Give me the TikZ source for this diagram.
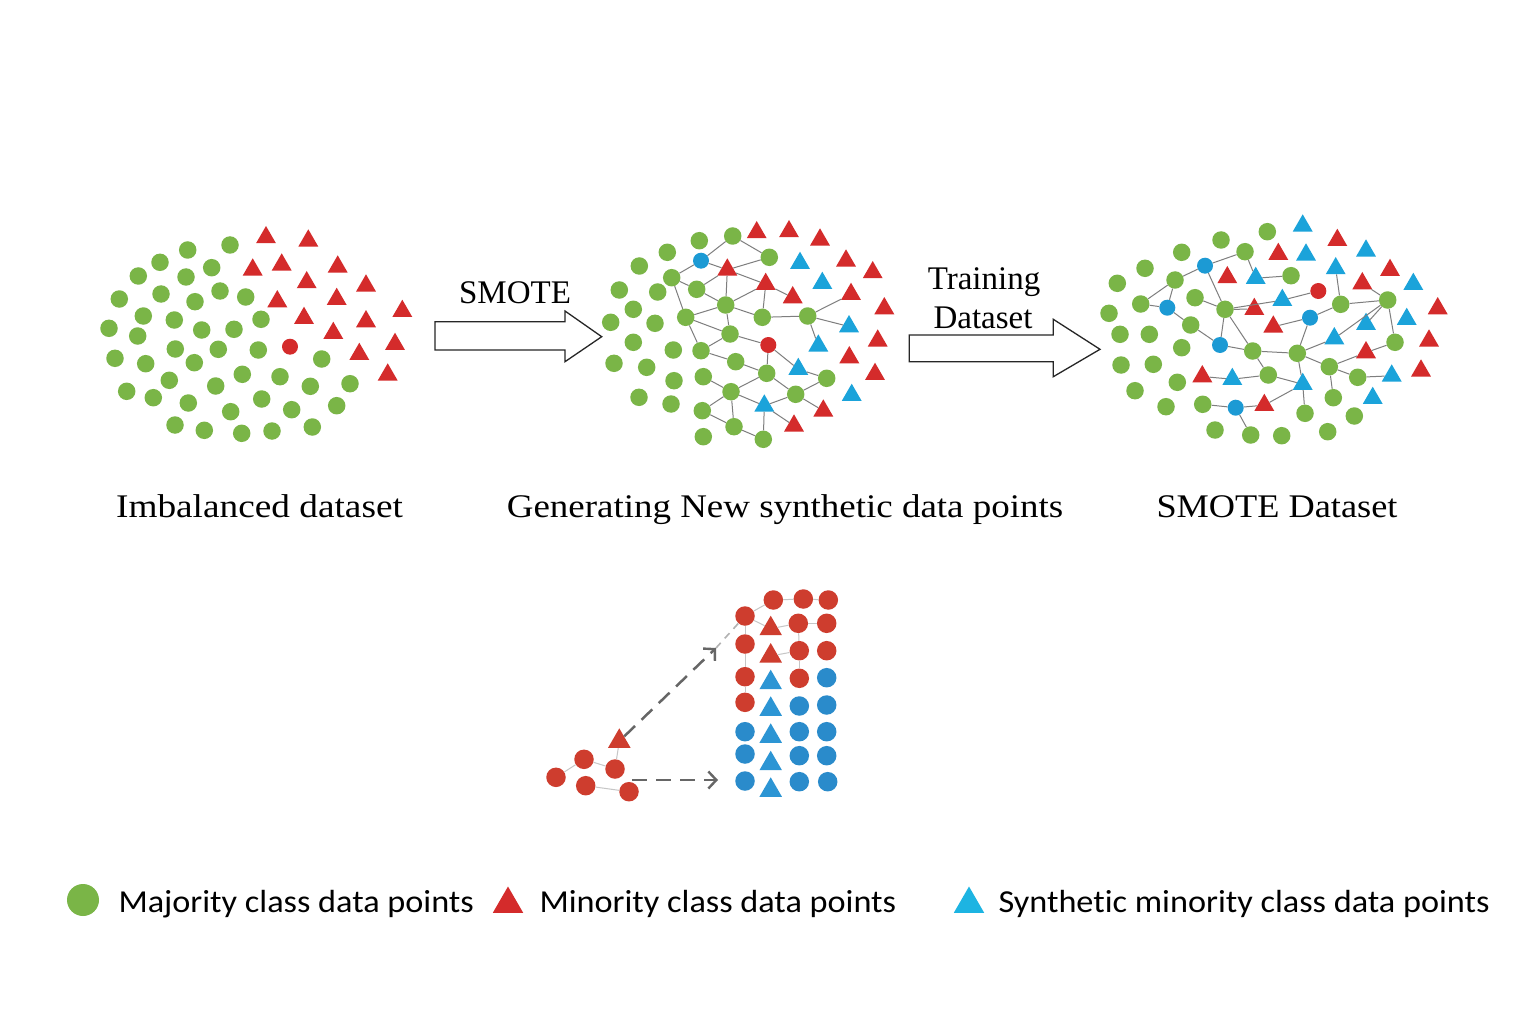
\documentclass[tikz,border=0pt]{standalone}
\usepackage{graphicx}
\usepackage{fontspec}
\setmainfont{Liberation Serif}
\newfontfamily\legfont[Ligatures=NoCommon]{Carlito}
\usetikzlibrary{shapes.geometric,arrows.meta}
\definecolor{cgreen}{HTML}{7AB547}
\definecolor{cred}{HTML}{D42B2B}
\definecolor{cblue}{HTML}{1C9AD4}
\definecolor{ctri}{HTML}{1BA3DA}
\definecolor{cgray}{HTML}{7E7E7E}
\definecolor{bred}{HTML}{CE3D2E}
\definecolor{bblue}{HTML}{2A8BCB}
\definecolor{btri}{HTML}{2C95D4}
\definecolor{lblue}{HTML}{1DB4E2}
\begin{document}
\begin{tikzpicture}[x=1pt,y=-1pt,
  gc/.style={circle,fill=cgreen,minimum size=17.5pt,inner sep=0pt},
  bc/.style={circle,fill=cblue,minimum size=16pt,inner sep=0pt},
  rx/.style={circle,fill=cred,minimum size=16pt,inner sep=0pt},
  rt/.style={regular polygon,regular polygon sides=3,fill=cred,minimum size=23pt,inner sep=0pt,yshift=-2.5pt},
  bt/.style={regular polygon,regular polygon sides=3,fill=ctri,minimum size=23pt,inner sep=0pt,yshift=-2.5pt},
  brc/.style={circle,fill=bred,minimum size=19.5pt,inner sep=0pt},
  bbc/.style={circle,fill=bblue,minimum size=19.5pt,inner sep=0pt},
  brt/.style={regular polygon,regular polygon sides=3,fill=bred,minimum size=26pt,inner sep=0pt,yshift=-2pt},
  bbt/.style={regular polygon,regular polygon sides=3,fill=btri,minimum size=26pt,inner sep=0pt,yshift=-2pt},
  lnk/.style={draw=cgray,line width=1pt},
  dasharrow/.style={draw=gray!80!black,line width=2.5pt,dash pattern=on 15pt off 9pt,-{Straight Barb[length=8pt,width=17pt,line width=2.4pt]}},
  blockarrow/.style={draw=black!85,line width=1.3pt,fill=white,line join=miter},
  title/.style={anchor=base,font=\fontsize{33}{40}\selectfont},
  lab/.style={anchor=base,font=\fontsize{33}{40}\selectfont},
  leg/.style={anchor=base west,font=\legfont\fontsize{32}{38}\selectfont}]
\useasboundingbox (0,0) rectangle (1536,1024);
\fill[white] (0,0) rectangle (1536,1024);

% ---------- cluster 1 : imbalanced ----------
\foreach \n/\x/\y in {Ag1/230/245,Ag2/187.7/250,Ag3/160/262.3,Ag4/211.7/267.7,Ag5/186/277,Ag6/138.3/276,Ag7/119.3/299,Ag8/161/294,Ag9/195/301.7,Ag10/220/291,Ag11/245.7/297,Ag12/143.3/316,Ag13/174.3/320,Ag14/201.7/330,Ag15/234/329.3,Ag16/261/319.3,Ag17/109/328.3,Ag18/137.7/336,Ag19/175.3/349,Ag20/218.3/349.3,Ag21/258.3/350,Ag22/194.3/362.7,Ag23/321.7/359,Ag24/115/358.3,Ag25/145.7/363.7,Ag26/169.3/380.3,Ag27/242.3/374.3,Ag28/280/376.7,Ag29/215.7/386,Ag30/310.3/386.3,Ag31/350/383.7,Ag32/126.7/391.3,Ag33/153.3/397.7,Ag34/188.3/403,Ag35/261.7/399,Ag36/230.7/411.7,Ag37/291.7/409.7,Ag38/336.7/405.7,Ag39/175/425,Ag40/204.3/430.3,Ag41/241.7/433.3,Ag42/272/431,Ag43/312.3/427}
  \node[gc] (\n) at (\x,\y) {};
\foreach \n/\x/\y in {At1/266/235,At2/308.3/238.3,At3/252.7/267.3,At4/281.7/262.3,At5/337.7/264.3,At6/306.7/280,At7/366/283.3,At8/277.3/299,At9/336.7/296.7,At10/402.3/308.7,At11/304/315.7,At12/366/319,At13/333.3/330.7,At14/395/341.7,At15/359.3/351.7,At16/387.7/372.3}
  \node[rt] (\n) at (\x,\y) {};
\node[rx] (Ax) at (290,346.7) {};

% ---------- cluster 2 : generating ----------
\foreach \n/\x/\y in {Bg1/699.3/240.7,Bg2/732.7/236,Bg3/769.3/257.3,Bg4/667.3/252.3,Bg5/639.3/266,Bg6/671.7/277.7,Bg7/696.7/289.3,Bg8/619.3/290,Bg9/657.7/292,Bg10/633.3/309.3,Bg11/725.7/305,Bg12/685.7/317.3,Bg13/762.3/317.3,Bg14/807.7/316,Bg15/610.7/322.3,Bg16/655/323.3,Bg17/730/334,Bg18/633.3/342.3,Bg19/673.3/350,Bg20/701/350.7,Bg21/735.7/361.7,Bg22/614/363.3,Bg23/646.7/367.3,Bg24/766.7/373.3,Bg25/826.7/378.3,Bg26/674/380.7,Bg27/703.3/376.7,Bg28/731/391.7,Bg29/795.7/394.3,Bg30/639/397.3,Bg31/671/404,Bg32/702.3/410.7,Bg33/734/426.7,Bg34/763.3/439.3,Bg35/703.3/436.7}
  \node[gc] (\n) at (\x,\y) {};
\node[bc] (Bb1) at (701,260.7) {};
\foreach \n/\x/\y in {Br1/756.7/230,Br2/789/229,Br3/820/237.3,Br4/727.3/267.3,Br5/765.7/281.7,Br6/846/258.3,Br7/872.7/270,Br8/792.7/295,Br9/851/291.7,Br10/884.3/306,Br11/877.7/338.3,Br12/849.3/355,Br13/875/371.7,Br14/823.3/408.3,Br15/794/423.3}
  \node[rt] (\n) at (\x,\y) {};
\node[rx] (Bx) at (768.3,345) {};
\foreach \n/\x/\y in {Bt1/800/260.7,Bt2/822.3/280.7,Bt3/849/324,Bt4/818.3/343.3,Bt5/798.3/366.7,Bt6/851.7/392.7,Bt7/764.3/403.3}
  \node[bt] (\n) at (\x,\y) {};
\foreach \a/\b in {Bb1/Bg2,Bg2/Bg3,Bg3/Br4,Bb1/Br4,Bb1/Bg6,Bg6/Bg7,Bg7/Br4,Br4/Bg11,Br4/Br5,Bg7/Bg11,Bg11/Br5,Br5/Bg13,Br5/Br8,Bg11/Bg12,Bg11/Bg13,Bg11/Bg17,Bg12/Bg17,Bg6/Bg12,Bg13/Bg14,Bg14/Br9,Bg14/Bt3,Bg14/Bt4,Bg12/Bg20,Bg17/Bg20,Bg17/Bx,Bg20/Bg21,Bg21/Bg24,Bx/Bg24,Bx/Bt5,Bg24/Bg28,Bg24/Bg29,Bg27/Bg28,Bg28/Bt7,Bg28/Bg32,Bg28/Bg33,Bg32/Bg33,Bg33/Bg34,Bt7/Bg34,Bt7/Bg29,Bt7/Br15,Bg29/Bg25,Bg25/Bt5,Bg29/Br14}
  \draw[lnk] (\a) -- (\b);

% ---------- cluster 3 : SMOTE dataset ----------
\foreach \n/\x/\y in {Cg1/1267.3/231.7,Cg2/1221/240,Cg3/1181.7/252.3,Cg4/1145/268.3,Cg5/1245/251.7,Cg6/1117.3/283.3,Cg7/1175/280,Cg8/1291/275.7,Cg9/1140.7/304,Cg10/1195/297.7,Cg11/1225/309.3,Cg12/1109/313.3,Cg13/1340.7/304.3,Cg14/1387.7/300,Cg15/1190.7/325,Cg16/1120/334.3,Cg17/1149.3/334.3,Cg18/1181.7/347.7,Cg19/1252.7/351,Cg20/1297.3/353.3,Cg21/1395/342.3,Cg22/1121/365,Cg23/1153.3/364.3,Cg24/1329.3/366.7,Cg25/1268.3/375,Cg26/1177.3/382.3,Cg27/1357.7/377.3,Cg28/1135/390.7,Cg29/1166/406.7,Cg30/1202.7/404.3,Cg31/1333.3/397.7,Cg32/1305/413.3,Cg33/1354.3/416,Cg34/1215/430,Cg35/1250.7/435,Cg36/1281.7/435.7,Cg37/1327.7/431.7}
  \node[gc] (\n) at (\x,\y) {};
\foreach \n/\x/\y in {Cb1/1205/265.7,Cb2/1167.3/307.7,Cb3/1310/317.7,Cb4/1220/345,Cb5/1235.7/407.7}
  \node[bc] (\n) at (\x,\y) {};
\foreach \n/\x/\y in {Cr1/1337.3/237.7,Cr2/1278.3/251.7,Cr3/1227.3/275,Cr4/1390/267.7,Cr5/1362.3/281,Cr6/1254.3/306.7,Cr7/1273.3/324.3,Cr8/1437.7/306,Cr9/1366/350,Cr10/1429/338.3,Cr11/1202.3/374,Cr12/1421/368.3,Cr13/1264.3/402.7}
  \node[rt] (\n) at (\x,\y) {};
\node[rx] (Cx) at (1318.3,291) {};
\foreach \n/\x/\y in {Ct1/1302.7/223.3,Ct2/1366/248.3,Ct3/1306/252.3,Ct4/1335.7/266,Ct5/1255.7/275.7,Ct6/1282.3/297.7,Ct7/1413.3/281.7,Ct8/1366/321.7,Ct9/1406.7/316.7,Ct10/1334.3/336,Ct11/1232.3/376.7,Ct12/1302.7/381.7,Ct13/1391.7/373.3,Ct14/1372.7/395.7}
  \node[bt] (\n) at (\x,\y) {};
\foreach \a/\b in {Cb1/Cg5,Cb1/Cg7,Cg7/Cg9,Cg9/Cb2,Cb2/Cg7,Cb2/Cg15,Cb1/Cg11,Cg10/Cg11,Cg5/Ct5,Ct5/Cg8,Cg11/Cr6,Cg11/Cg19,Cg11/Cb4,Cg15/Cb4,Cb4/Cg19,Cg19/Cg20,Ct6/Cx,Cg11/Ct6,Cr7/Cb3,Cb3/Cg13,Cb3/Cg20,Cg13/Ct4,Cg13/Cg14,Cg14/Ct8,Cg14/Cg21,Cg14/Ct10,Cr5/Cg14,Cg20/Ct10,Cg20/Cg24,Cg24/Cr9,Cr9/Cg21,Cg24/Cg27,Cg27/Ct13,Cg20/Ct12,Cg19/Cg25,Cg25/Ct12,Ct11/Cg25,Cr11/Ct11,Ct12/Cr13,Cr13/Cb5,Cb5/Cg30,Cb5/Cg35,Ct12/Cg32,Cg24/Cg31}
  \draw[lnk] (\a) -- (\b);

% ---------- block arrows ----------
\draw[blockarrow] (435,321.7) -- (565,321.7) -- (565,311) -- (601.7,336.7) -- (565,361.7) -- (565,350) -- (435,350) -- cycle;
\draw[blockarrow] (909.3,335) -- (1053.3,335) -- (1053.3,319.3) -- (1100,349.3) -- (1053.3,376.7) -- (1053.3,361.7) -- (909.3,361.7) -- cycle;
\node[lab] (smote) at (515,303) {SMOTE};
\node[lab] (train) at (984,290) {Training};
\node[lab] (dset) at (983,328) {Dataset};

% ---------- titles ----------
\node[title] (t1) at (259.5,517) {\scalebox{1.13}[1]{Imbalanced dataset}};
\node[title] (t2) at (785,517) {\scalebox{1.12}[1]{Generating New synthetic data points}};
\node[title] (t3) at (1277,517) {\scalebox{1.1}[1]{SMOTE Dataset}};

% ---------- bottom illustration ----------
\foreach \n/\x/\y in {L1/556/777.3,L2/584/759.3,L3/615/769,L4/585.7/785.7,L5/629/791.7,
  R01/773.3/600,R02/803.3/599,R03/828.3/600,
  R10/745/616,R12/798.3/623.3,R13/826.7/623.3,
  R20/745/644,R22/799.3/650.7,R23/826.7/650.7,
  R30/745/676.7,R32/799.3/678.3,
  R40/745/702.3}
  \node[brc] (\n) at (\x,\y) {};
\foreach \n/\x/\y in {R33/826.7/677.7,R42/799.3/706,R43/826.7/705,
  R50/745/731.7,R52/799.3/731.7,R53/826.7/731.7,
  R60/745/754,R62/799.3/755.7,R63/826.7/755.7,
  R70/745/781,R72/799.3/781.7,R73/827.7/781.7}
  \node[bbc] (\n) at (\x,\y) {};
\foreach \n/\x/\y in {LT/619.3/739.3,R11/770.7/626.7,R21/770.7/654}
  \node[brt] (\n) at (\x,\y) {};
\foreach \n/\x/\y in {R31/770.7/680.7,R41/770.7/707.3,R51/770.7/734.3,R61/770.7/761.7,R71/770.7/788.3}
  \node[bbt] (\n) at (\x,\y) {};
\foreach \a/\b in {L1/L2,L2/L3,L4/L5,L3/LT,R10/R01,R01/R02,R02/R03,R10/R11,R11/R12,R12/R13,R10/R20,R20/R30,R30/R40,R21/R22,R12/R22,R22/R32}
  \draw[lnk,draw=gray!45] (\a) -- (\b);
\coordinate (d1e) at (716,648);
\coordinate (d2s) at (632,780);
\coordinate (d2e) at (718,780);
\draw[dasharrow] (LT.north east) -- (d1e);
\draw[draw=gray!60,line width=1.6pt,dash pattern=on 7pt off 6pt] (d1e) -- (R10);
\draw[dasharrow] (d2s) -- (d2e);

% ---------- legend ----------
\node[circle,fill=cgreen,minimum size=32pt,inner sep=0pt] (lg1) at (83,900) {};
\node[leg] (lt1) at (115,912) {\scalebox{1.07}[1]{Majority class data points}};
\node[regular polygon,regular polygon sides=3,fill=cred,minimum size=35pt,inner sep=0pt] (lg2) at (508,904) {};
\node[leg] (lt2) at (536,912) {\scalebox{1.07}[1]{Minority class data points}};
\node[regular polygon,regular polygon sides=3,fill=lblue,minimum size=35pt,inner sep=0pt] (lg3) at (969,904) {};
\node[leg] (lt3) at (995,912) {\scalebox{1.07}[1]{Synthetic minority class data points}};
\end{tikzpicture}
\end{document}
